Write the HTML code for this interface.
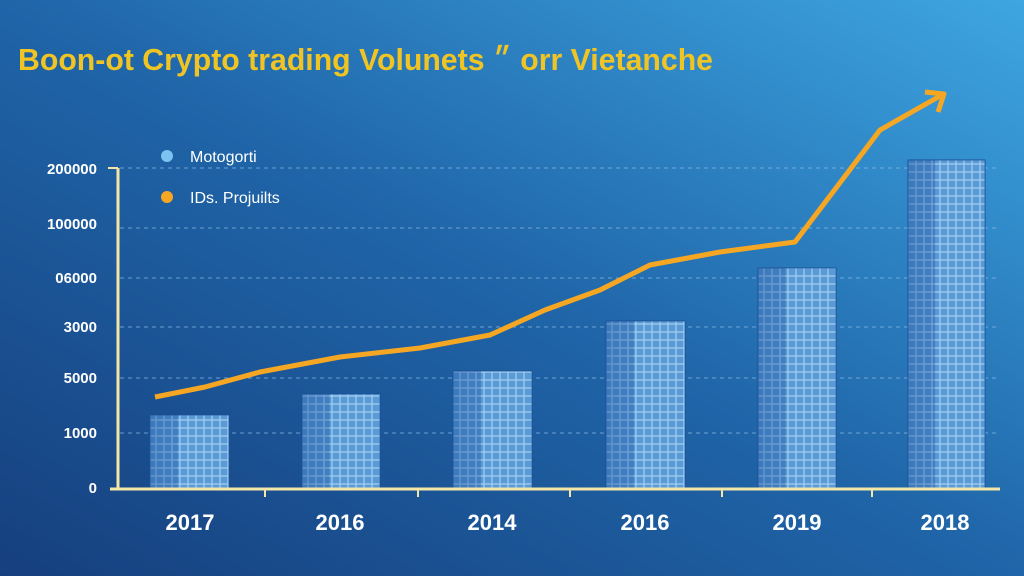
<!DOCTYPE html>
<html><head><meta charset="utf-8"><style>
html,body{margin:0;padding:0;width:1024px;height:576px;overflow:hidden}
</style></head><body>
<svg width="1024" height="576" viewBox="0 0 1024 576" xmlns="http://www.w3.org/2000/svg">
<defs>
<linearGradient id="bg" x1="0" y1="1" x2="1" y2="0">
<stop offset="0" stop-color="#163f7e"/>
<stop offset="0.5" stop-color="#1f65a8"/>
<stop offset="1" stop-color="#3ea6e2"/>
</linearGradient>
<pattern id="pt" width="8" height="8" patternUnits="userSpaceOnUse">
<rect width="8" height="8" fill="#4d8fd0"/>
<path d="M0 4h4v4M4 0v4h4" stroke="#a9d2f2" stroke-width="1.2" fill="none"/>
</pattern>
<linearGradient id="bar" x1="0" x2="1">
<stop offset="0" stop-color="#2e66ad" stop-opacity="0.55"/>
<stop offset="0.35" stop-color="#2e66ad" stop-opacity="0.4"/>
<stop offset="0.36" stop-color="#8ec6f0" stop-opacity="0.2"/>
<stop offset="1" stop-color="#8ec6f0" stop-opacity="0.2"/>
</linearGradient>
</defs>
<rect width="1024" height="576" fill="url(#bg)"/>
<text x="18" y="70" font-family="Liberation Sans, sans-serif" font-weight="bold" font-size="31" fill="#f0c423" textLength="695" lengthAdjust="spacingAndGlyphs">Boon-ot Crypto trading Volunets ״ orr Vietanche</text>
<g stroke="#8fbce6" stroke-dasharray="4 4" stroke-width="1" opacity="0.7">
<line x1="120" y1="168" x2="1000" y2="168"/>
<line x1="120" y1="228" x2="1000" y2="228"/>
<line x1="120" y1="278" x2="1000" y2="278"/>
<line x1="120" y1="327" x2="1000" y2="327"/>
<line x1="120" y1="378" x2="1000" y2="378"/>
<line x1="120" y1="433" x2="1000" y2="433"/>
</g>
<g font-family="Liberation Sans, sans-serif" font-weight="bold" font-size="15" fill="#fff" text-anchor="end">
<text x="97" y="174">200000</text>
<text x="97" y="229">100000</text>
<text x="97" y="283">06000</text>
<text x="97" y="332">3000</text>
<text x="97" y="383">5000</text>
<text x="97" y="438">1000</text>
<text x="97" y="493">0</text>
</g>
<g>
<rect x="150" y="415" width="79" height="73" fill="url(#pt)" stroke="#1b4f95"/>
<rect x="302" y="394" width="78" height="94" fill="url(#pt)" stroke="#1b4f95"/>
<rect x="453" y="371" width="79" height="117" fill="url(#pt)" stroke="#1b4f95"/>
<rect x="606" y="321" width="79" height="167" fill="url(#pt)" stroke="#1b4f95"/>
<rect x="758" y="268" width="78" height="220" fill="url(#pt)" stroke="#1b4f95"/>
<rect x="908" y="160" width="77" height="328" fill="url(#pt)" stroke="#1b4f95"/>
<rect x="150" y="415" width="79" height="73" fill="url(#bar)"/>
<rect x="302" y="394" width="78" height="94" fill="url(#bar)"/>
<rect x="453" y="371" width="79" height="117" fill="url(#bar)"/>
<rect x="606" y="321" width="79" height="167" fill="url(#bar)"/>
<rect x="758" y="268" width="78" height="220" fill="url(#bar)"/>
<rect x="908" y="160" width="77" height="328" fill="url(#bar)"/>
</g>
<line x1="118" y1="168" x2="118" y2="490" stroke="#f3e6a6" stroke-width="3"/>
<line x1="108" y1="168" x2="118" y2="168" stroke="#f3e6a6" stroke-width="2"/>
<line x1="110" y1="489" x2="1000" y2="489" stroke="#f3e6a6" stroke-width="3"/>
<g stroke="#f3e6a6" stroke-width="2">
<line x1="265" y1="489" x2="265" y2="497"/><line x1="418" y1="489" x2="418" y2="497"/>
<line x1="570" y1="489" x2="570" y2="497"/><line x1="722" y1="489" x2="722" y2="497"/>
<line x1="872" y1="489" x2="872" y2="497"/>
</g>
<polyline points="155,397 205,387 260,372 340,357 420,348 490,335 545,310 600,290 650,265 720,252 795,242 880,130 940,96" fill="none" stroke="#f5a623" stroke-width="5" stroke-linejoin="round"/>
<polyline points="925,92 944,94 938,112" fill="none" stroke="#f5a623" stroke-width="5" stroke-linejoin="round"/>
<g font-family="Liberation Sans, sans-serif" font-weight="bold" font-size="22" fill="#fff" text-anchor="middle">
<text x="190" y="530">2017</text><text x="340" y="530">2016</text>
<text x="492" y="530">2014</text><text x="645" y="530">2016</text>
<text x="797" y="530">2019</text><text x="945" y="530">2018</text>
</g>
<circle cx="167" cy="156" r="6" fill="#7cc3f2"/>
<circle cx="167" cy="197" r="6" fill="#f5a623"/>
<g font-family="Liberation Sans, sans-serif" font-size="16" fill="#fff">
<text x="190" y="162">Motogorti</text>
<text x="190" y="203">IDs. Projuilts</text>
</g>
</svg>
</body></html>
